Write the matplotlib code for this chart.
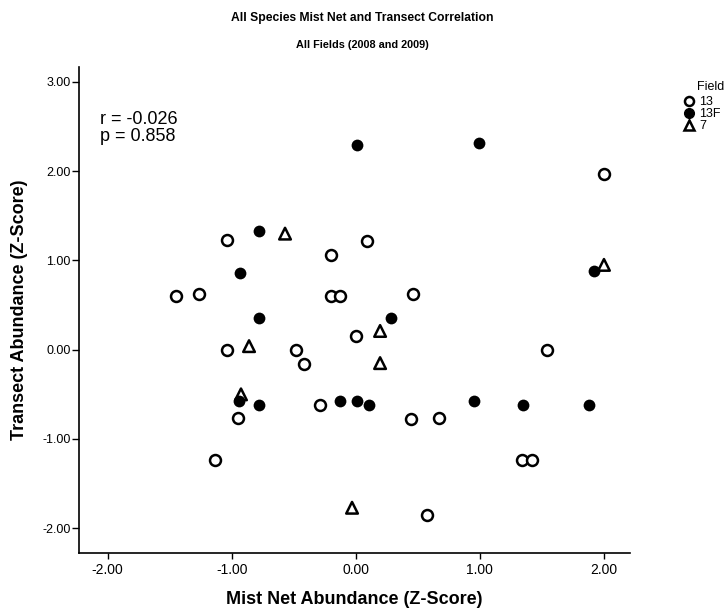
import matplotlib

matplotlib.use("Agg")
import matplotlib.pyplot as plt
from matplotlib.lines import Line2D

# Field 13 (open circles)
x_13 = [-1.035, -0.20, -1.45, -1.26, -0.20, -0.127, 1.997, 0.094, 0.46, -1.04, -0.48,
        -0.42, 0.005, -0.95, -0.29, -1.135, 1.545, 0.446, 0.67, 1.34, 1.42, 0.57]
y_13 = [1.23, 1.06, 0.60, 0.62, 0.60, 0.60, 1.97, 1.22, 0.62, 0.00, 0.00,
        -0.16, 0.15, -0.77, -0.62, -1.24, 0.00, -0.78, -0.77, -1.24, -1.23, -1.85]

# Field 13F (filled circles)
x_13f = [0.01, 0.994, -0.777, -0.933, -0.777, 0.285, 1.916, -0.94, -0.777, -0.127,
         0.012, 0.11, 0.954, 1.35, 1.88]
y_13f = [2.29, 2.31, 1.325, 0.86, 0.36, 0.36, 0.877, -0.57, -0.62, -0.57,
         -0.57, -0.62, -0.57, -0.62, -0.62]

# Field 7 (triangles)
x_7 = [-0.57, 2.0, -0.86, -0.925, 0.196, 0.196, -0.03]
y_7 = [1.30, 0.95, 0.04, -0.50, 0.21, -0.15, -1.77]

x_ticks = [-2.0, -1.0, 0.0, 1.0, 2.0]
y_ticks = [-2.0, -1.0, 0.0, 1.0, 2.0, 3.0]

plt.rcParams["font.family"] = ["Liberation Sans", "DejaVu Sans"]

fig = plt.figure(figsize=(7.25, 6.16), dpi=100)
ax = fig.add_axes([0.109, 0.1018, 0.760, 0.790])

ax.scatter(x_13, y_13, s=62, facecolors="white", edgecolors="black", linewidths=1.8, zorder=3)
ax.scatter(x_13f, y_13f, s=72, color="black", linewidths=0, zorder=3)
ax.scatter(x_7, y_7, marker="^", s=70, facecolors="none", edgecolors="black",
           linewidths=1.8, zorder=3)

ax.set_xlim(-2.23, 2.21)
ax.set_ylim(-2.28, 3.17)
ax.set_xticks(x_ticks)
ax.set_yticks(y_ticks)
ax.set_xticklabels([f"{v:.2f}" for v in x_ticks], fontsize=10)
ax.set_yticklabels([f"{v:.2f}" for v in y_ticks], fontsize=9)
ax.tick_params(axis="x", direction="out", length=4, width=1, pad=3)
ax.tick_params(axis="y", direction="out", length=5, width=1, pad=1)
for side in ["top", "right"]:
    ax.spines[side].set_visible(False)
for side in ["left", "bottom"]:
    ax.spines[side].set_linewidth(1.2)

ax.set_xlabel("Mist Net Abundance (Z-Score)", fontsize=13, fontweight="bold", labelpad=10)
ax.set_ylabel("Transect Abundance (Z-Score)", fontsize=13, fontweight="bold", labelpad=10)

fig.text(0.5, 0.970, "All Species Mist Net and Transect Correlation",
         fontsize=8.7, fontweight="bold", ha="center", va="center")
fig.text(0.5, 0.927, "All Fields (2008 and 2009)", fontsize=7.8,
         fontweight="bold", ha="center", va="center")

ax.text(0.038, 0.909, "r = -0.026\np = 0.858", transform=ax.transAxes, fontsize=13,
        ha="left", va="top", linespacing=1.02)

# legend
fig.text(0.961, 0.858, "Field", fontsize=9, ha="left", va="center")
handles = [
    Line2D([], [], marker="o", ls="none", markersize=6.5, markerfacecolor="white",
           markeredgecolor="black", markeredgewidth=1.8),
    Line2D([], [], marker="o", ls="none", markersize=7, color="black"),
    Line2D([], [], marker="^", ls="none", markersize=7.5, markerfacecolor="none",
           markeredgecolor="black", markeredgewidth=1.8),
]
fig.legend(handles, ["13", "13F", "7"], loc="upper left", bbox_to_anchor=(0.945, 0.844),
           frameon=False, fontsize=9, handlelength=0.6, handletextpad=0.5,
           labelspacing=0.0, borderpad=0, borderaxespad=0)

fig.savefig("out.png", dpi=100)
